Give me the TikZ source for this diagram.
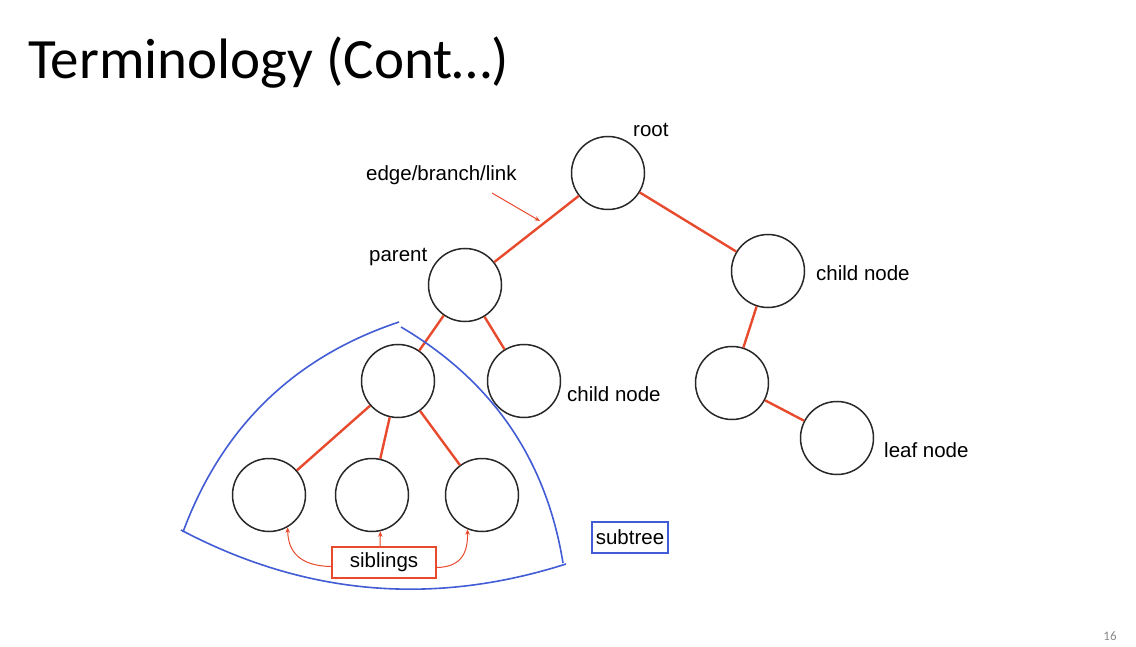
\documentclass[tikz,border=0pt]{standalone}
\usepackage{fontspec}
\setmainfont{Liberation Sans}
\newfontfamily\titlefont{Carlito}
\usetikzlibrary{arrows.meta,calc}
\definecolor{edgered}{RGB}{232,74,46}
\definecolor{subblue}{RGB}{66,92,214}
\definecolor{circgray}{RGB}{40,40,40}
\definecolor{pagegray}{RGB}{137,137,137}
\begin{document}
\begin{tikzpicture}[x=1pt,y=-1pt,
  treenode/.style={circle,draw=circgray,line width=1.5pt,minimum size=73pt,inner sep=0pt},
  lbl/.style={font=\fontsize{20.5}{24}\selectfont,inner sep=0pt,anchor=base west},
  tedge/.style={draw=edgered,line width=2.4pt},
  redarrow/.style={draw=edgered,line width=1pt,-{Stealth[length=5.5pt,width=4.5pt]}},
  redbox/.style={draw=edgered,line width=1.4pt,font=\fontsize{20.5}{24}\selectfont,minimum width=104pt,minimum height=31pt,inner sep=0pt},
  bluebox/.style={draw=subblue,line width=1.4pt,font=\fontsize{20.5}{24}\selectfont,minimum width=76pt,minimum height=31pt,inner sep=0pt},
  blueline/.style={draw=subblue,line width=1.6pt}
]
\useasboundingbox (0,0) rectangle (1136,647);
\fill[white] (0,0) rectangle (1136,647);

% title and page number
\node[anchor=base west,inner sep=0pt,font=\titlefont\fontsize{57}{61}\selectfont] (title) at (28,79) {Terminology (Cont…)};
\node[inner sep=0pt,text=pagegray,font=\titlefont\fontsize{13}{15}\selectfont] (page) at (1110,636) {16};

% tree nodes
\node[treenode] (root) at (608,173) {};
\node[treenode] (parent) at (465,285) {};
\node[treenode] (rchild) at (768,271) {};
\node[treenode] (sroot) at (398,381) {};
\node[treenode] (mchild) at (524,381) {};
\node[treenode] (rmid) at (732,383) {};
\node[treenode] (leaf) at (837,438) {};
\node[treenode] (l1) at (269,495) {};
\node[treenode] (l2) at (372,495) {};
\node[treenode] (l3) at (482,495) {};

% edges
\draw[tedge] (root) -- (parent);
\draw[tedge] (root) -- (rchild);
\draw[tedge] (parent) -- (sroot);
\draw[tedge] (parent) -- (mchild);
\draw[tedge] (rchild) -- (rmid);
\draw[tedge] (rmid) -- (leaf);
\draw[tedge] (sroot) -- (l1);
\draw[tedge] (sroot) -- (l2);
\draw[tedge] (sroot) -- (l3);

% labels
\node[lbl] (lroot) at (633,137) {root};
\node[lbl] (ledge) at (366,181) {edge/branch/link};
\node[lbl] (lparent) at (369,262) {parent};
\node[lbl] (lrchild) at (816,280) {child node};
\node[lbl] (lmchild) at (567,401) {child node};
\node[lbl] (lleaf) at (884,457) {leaf node};

% edge label arrow
\coordinate (estart) at (492,193);
\coordinate (eend) at (540,221);
\draw[redarrow] (estart) -- (eend);

% subtree outline
\coordinate (apexL) at (399,322);
\coordinate (apexR) at (401,327);
\coordinate (cornL) at (183,532);
\coordinate (cornLb) at (181,530);
\coordinate (cornR) at (563,563);
\coordinate (cornRb) at (566,564);
\draw[blueline] (apexL) .. controls (294,357) and (222,427) .. (cornL);
\draw[blueline] (apexR) .. controls (491,380) and (546,458) .. (cornR);
\draw[blueline] (cornLb) .. controls (306,596) and (434,606) .. (cornRb);

% boxes
\node[redbox] (sib) at (384,562.5) {siblings};
\node[bluebox] (sub) at (630,537.5) {subtree};

% sibling arrows
\draw[redarrow] ([yshift=-4pt]sib.west) .. controls (300,566) and (288,552) .. (l1.-60);
\draw[redarrow] ([xshift=-4pt]sib.north) -- (l2.-77);
\draw[redarrow] ([yshift=-5pt]sib.east) .. controls (462,567) and (468,552) .. (l3.-113);
\end{tikzpicture}
\end{document}
